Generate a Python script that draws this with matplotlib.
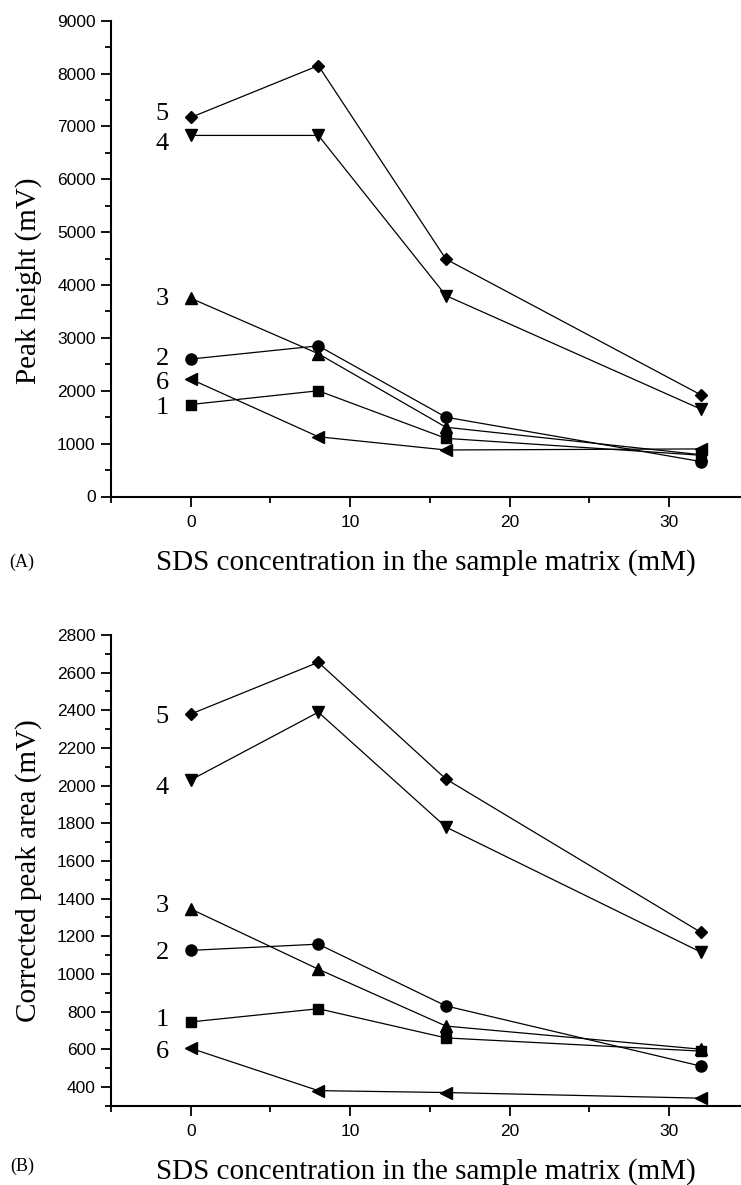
import matplotlib
matplotlib.use("Agg")
import matplotlib.pyplot as plt
from matplotlib.ticker import MultipleLocator

# SDS concentration (mM)
sds = [0, 8, 16, 32]

# Panel A: peak height (mV)
height_1 = [1740, 2000, 1100, 780]
height_2 = [2600, 2850, 1500, 660]
height_3 = [3750, 2700, 1310, 790]
height_4 = [6830, 6830, 3800, 1650]
height_5 = [7170, 8150, 4490, 1920]
height_6 = [2220, 1130, 880, 900]

# Panel B: corrected peak area (mV)
area_1 = [745, 815, 660, 590]
area_2 = [1125, 1158, 830, 510]
area_3 = [1345, 1025, 723, 600]
area_4 = [2030, 2390, 1780, 1115]
area_5 = [2380, 2655, 2035, 1220]
area_6 = [605, 380, 370, 340]

series_ids = ["1", "2", "3", "4", "5", "6"]
markers = ["s", "o", "^", "v", "D", "<"]
marker_sizes = [7, 8, 8, 8, 6.5, 8]

label_y_a = [1680, 2600, 3735, 6670, 7230, 2140]
label_y_b = [755, 1110, 1359, 1989, 2367, 583]

SERIF = "Liberation Serif"
SANS = "Liberation Sans"

W, H = 741, 1185
fig = plt.figure(figsize=(W / 100, H / 100), dpi=100)


def setup_axes(ax, ylim, ymajor, yminor, ylabel, ylabel_y):
    ax.set_xlim(-5, 34.5)
    ax.set_ylim(*ylim)
    for side in ("top", "right"):
        ax.spines[side].set_visible(False)
    for side in ("left", "bottom"):
        ax.spines[side].set_linewidth(1.5)
    ax.xaxis.set_major_locator(MultipleLocator(10))
    ax.xaxis.set_minor_locator(MultipleLocator(5))
    ax.yaxis.set_major_locator(MultipleLocator(ymajor))
    ax.yaxis.set_minor_locator(MultipleLocator(yminor))
    ax.tick_params(which="major", direction="out", length=7, width=1.3,
                   labelsize=12.5, pad=4)
    ax.tick_params(axis="x", which="major", pad=6)
    ax.tick_params(which="minor", direction="out", length=4, width=1.3)
    for lab in ax.get_xticklabels() + ax.get_yticklabels():
        lab.set_fontfamily(SANS)
    ax.set_ylabel(ylabel, fontfamily=SERIF, fontsize=21)
    ax.yaxis.set_label_coords(-0.11, ylabel_y)
    ax.set_xlabel("SDS concentration in the sample matrix (mM)",
                  fontfamily=SERIF, fontsize=21, labelpad=14)


def draw_panel(ax, data, label_y):
    for vals, m, ms, sid, ly in zip(data, markers, marker_sizes, series_ids, label_y):
        ax.plot(sds, vals, color="black", linewidth=0.9, marker=m,
                markersize=ms, markerfacecolor="black", markeredgecolor="black")
        ax.text(-1.8, ly, sid, fontfamily=SERIF, fontsize=19,
                ha="center", va="center")


ax_a = fig.add_axes([111 / W, 1 - 496.5 / H, 1 - 111 / W, (496.5 - 20.7) / H])
draw_panel(ax_a, [height_1, height_2, height_3, height_4, height_5, height_6], label_y_a)
setup_axes(ax_a, (0, 9000), 1000, 500, "Peak height (mV)", 0.453)

ax_b = fig.add_axes([111 / W, 1 - 1105.7 / H, 1 - 111 / W, (1105.7 - 635) / H])
draw_panel(ax_b, [area_1, area_2, area_3, area_4, area_5, area_6], label_y_b)
setup_axes(ax_b, (300, 2800), 200, 100, "Corrected peak area (mV)", 0.5)

fig.text(22 / W, 1 - 562 / H, "(A)", fontfamily=SERIF, fontsize=13,
         ha="center", va="center")
fig.text(22 / W, 1 - 1166 / H, "(B)", fontfamily=SERIF, fontsize=13,
         ha="center", va="center")

fig.savefig("out.png", dpi=100)
